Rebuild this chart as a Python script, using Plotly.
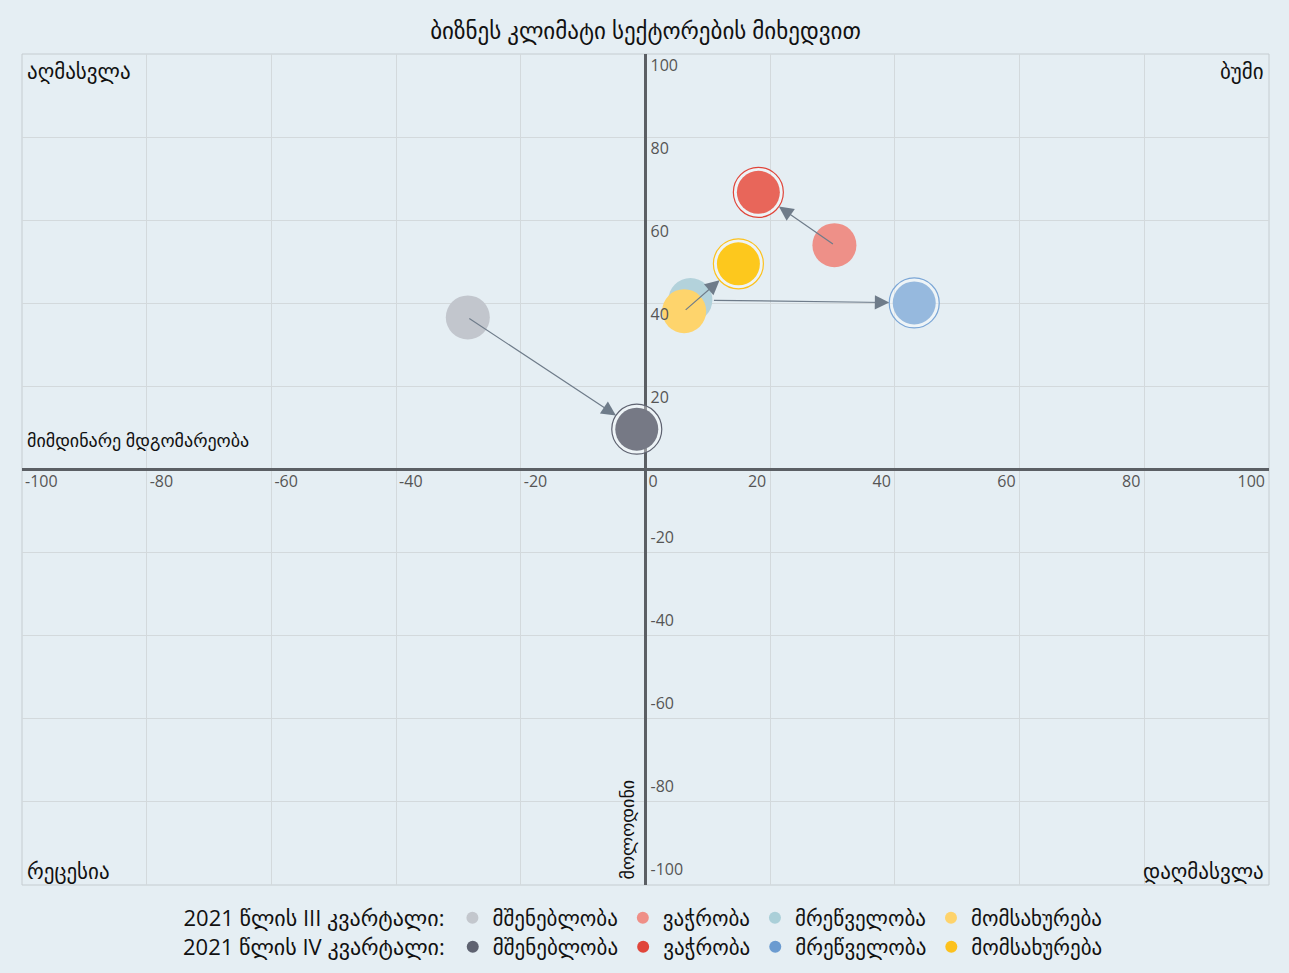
import plotly.graph_objects as go

# ---------------- data ----------------
sectors = ["მშენებლობა", "ვაჭრობა", "მრეწველობა", "მომსახურება"]
q3_x = [-28.5, 30.3, 7.2, 6.2]
q3_y = [36.6, 54.0, 40.8, 38.1]
q4_x = [-1.4, 18.1, 43.1, 14.9]
q4_y = [9.7, 66.7, 40.1, 49.5]

q3_name = "2021 წლის III კვარტალი:"
q4_name = "2021 წლის IV კვარტალი:"

tick_neg_x = [-100, -80, -60, -40, -20, 0]
tick_pos_x = [20, 40, 60, 80, 100]
tick_pos_y = [20, 40, 60, 80, 100]
tick_neg_y = [-100, -80, -60, -40, -20]

title_text = "ბიზნეს კლიმატი სექტორების მიხედვით"
corner_labels = ["აღმასვლა", "ბუმი", "რეცესია", "დაღმასვლა"]
x_title = "მიმდინარე მდგომარეობა"
y_title = "მოლოდინი"

# ---------------- styles ----------------
q3_bubble = ["#c2c6cd", "#ee9088", "#b3d2db", "#fed46c"]
q4_bubble = ["#767985", "#e8665a", "#96b9de", "#fdc81d"]
q4_ring = ["#5e6270", "#e0453a", "#7ba6d6", "#fcc11d"]
q3_legend = ["#c3c7cd", "#ef8f87", "#aacfd8", "#fed36b"]
q4_legend = ["#5e6270", "#e0453a", "#6b9bd0", "#fcc11d"]
bg = "#e5eef3"
grid = "#d3d9dc"
axis_col = "#5b5f64"
tick_col = "#555555"
arrow_col = "#6f7c8a"
FONT = "Open Sans, DejaVu Sans, sans-serif"

fig = go.Figure()

# Q3 bubbles
for i in range(len(sectors)):
    fig.add_trace(go.Scatter(
        x=[q3_x[i]], y=[q3_y[i]], mode="markers",
        marker=dict(size=44, color=q3_bubble[i], line=dict(width=0)),
        showlegend=False, hoverinfo="skip"))

# Q4 bubbles (ring + filled)
for i in range(len(sectors)):
    fig.add_trace(go.Scatter(
        x=[q4_x[i]], y=[q4_y[i]], mode="markers",
        marker=dict(size=50, color="rgba(255,255,255,0.35)",
                    line=dict(width=1.2, color=q4_ring[i])),
        showlegend=False, hoverinfo="skip"))
    fig.add_trace(go.Scatter(
        x=[q4_x[i]], y=[q4_y[i]], mode="markers",
        marker=dict(size=43, color=q4_bubble[i], line=dict(width=0)),
        showlegend=False, hoverinfo="skip"))

# legend-only entries
for i in range(len(sectors)):
    fig.add_trace(go.Scatter(
        x=[None], y=[None], mode="markers", name=sectors[i],
        marker=dict(size=12, color=q3_legend[i]), legend="legend"))
for i in range(len(sectors)):
    fig.add_trace(go.Scatter(
        x=[None], y=[None], mode="markers", name=sectors[i],
        marker=dict(size=12, color=q4_legend[i]), legend="legend2"))

# empty traces so that the tick-label axes get their subplots
for xa, ya in [("x2", "y2"), ("x3", "y3")]:
    fig.add_trace(go.Scatter(x=[None], y=[None], xaxis=xa, yaxis=ya,
                             mode="markers", showlegend=False, hoverinfo="skip"))

# arrows Q3 -> Q4
annotations = []
for i in range(len(sectors)):
    annotations.append(dict(
        x=q4_x[i], y=q4_y[i], ax=q3_x[i], ay=q3_y[i],
        xref="x", yref="y", axref="x", ayref="y",
        text="", showarrow=True, arrowhead=2, arrowsize=2.4,
        arrowwidth=1.2, arrowcolor=arrow_col, standoff=25,
        startstandoff=22 if i == 2 else 0))

lab_font = dict(family=FONT, size=21, color="#111111")
small_font = dict(family=FONT, size=18, color="#111111")
annotations += [
    dict(text=corner_labels[0], x=0, y=1, xref="paper", yref="paper",
         xanchor="left", yanchor="top", xshift=3, yshift=-1, showarrow=False, font=lab_font),
    dict(text=corner_labels[1], x=1, y=1, xref="paper", yref="paper",
         xanchor="right", yanchor="top", xshift=-3, yshift=-1, showarrow=False, font=lab_font),
    dict(text=corner_labels[2], x=0, y=0, xref="paper", yref="paper",
         xanchor="left", yanchor="bottom", xshift=3, yshift=-2, showarrow=False, font=lab_font),
    dict(text=corner_labels[3], x=1, y=0, xref="paper", yref="paper",
         xanchor="right", yanchor="bottom", xshift=-3, yshift=-2, showarrow=False, font=lab_font),
    dict(text=x_title, x=0, y=0.5, xref="paper", yref="paper",
         xanchor="left", yanchor="bottom", xshift=3, yshift=16, showarrow=False, font=small_font),
    dict(text=y_title, x=0.5, y=0, xref="paper", yref="paper",
         xanchor="right", yanchor="bottom", xshift=-5, yshift=3, textangle=-90,
         showarrow=False, font=small_font),
]

tick_font = dict(family=FONT, size=16, color=tick_col)

fig.update_layout(
    width=1289, height=973,
    paper_bgcolor=bg, plot_bgcolor=bg,
    margin=dict(l=22, r=20, t=54, b=88, autoexpand=False),
    font=dict(family=FONT),
    title=dict(text=title_text, x=0.5, xref="paper", xanchor="center",
               y=1 - 31 / 973, yref="container", yanchor="middle",
               font=dict(family=FONT, size=23, color="#111111")),
    xaxis=dict(range=[-100, 100], dtick=20, tick0=0, showgrid=True, gridcolor=grid,
               gridwidth=1, showticklabels=False, zeroline=True,
               zerolinecolor=axis_col, zerolinewidth=2.5, ticks="",
               showline=False, fixedrange=True),
    yaxis=dict(range=[-100, 100], dtick=20, tick0=0, showgrid=True, gridcolor=grid,
               gridwidth=1, showticklabels=False, zeroline=True,
               zerolinecolor=axis_col, zerolinewidth=2.5, ticks="",
               showline=False, fixedrange=True),
    xaxis2=dict(overlaying="x", range=[-100, 100], anchor="free", position=0.5,
                tickmode="array", tickvals=tick_neg_x, ticktext=[str(v) for v in tick_neg_x],
                ticklabelposition="outside right", ticklabelshift=3, showgrid=False,
                zeroline=False, ticks="", showline=False, tickfont=tick_font,
                ticklabelstandoff=0, fixedrange=True),
    xaxis3=dict(overlaying="x", range=[-100, 100], anchor="free", position=0.5,
                tickmode="array", tickvals=tick_pos_x, ticktext=[str(v) for v in tick_pos_x],
                ticklabelposition="outside left", ticklabelshift=-4, showgrid=False,
                zeroline=False, ticks="", showline=False, tickfont=tick_font,
                ticklabelstandoff=0, fixedrange=True),
    yaxis2=dict(overlaying="y", range=[-100, 100], anchor="free", position=0.5,
                side="right",
                tickmode="array", tickvals=tick_pos_y, ticktext=[str(v) for v in tick_pos_y],
                ticklabelposition="outside bottom", showgrid=False, zeroline=False,
                ticks="", showline=False, tickfont=tick_font, ticklabelstandoff=4,
                fixedrange=True),
    yaxis3=dict(overlaying="y", range=[-100, 100], anchor="free", position=0.5,
                side="right",
                tickmode="array", tickvals=tick_neg_y, ticktext=[str(v) for v in tick_neg_y],
                ticklabelposition="outside top", ticklabelshift=-4, showgrid=False,
                zeroline=False, ticks="", showline=False, tickfont=tick_font,
                ticklabelstandoff=4, fixedrange=True),
    shapes=[dict(type="rect", xref="paper", yref="paper", x0=0, y0=0, x1=1, y1=1,
                 line=dict(color="#c5ccd0", width=1), layer="below")],
    annotations=annotations,
    legend=dict(title=dict(text=q3_name, side="left", font=dict(family=FONT, size=22, color="#111")),
                orientation="h", x=0.5, xanchor="center", xref="container",
                y=1 - 918 / 973, yref="container", yanchor="middle",
                font=dict(family=FONT, size=21, color="#111"),
                itemsizing="constant", itemwidth=30, bgcolor="rgba(0,0,0,0)",
                tracegroupgap=0),
    legend2=dict(title=dict(text=q4_name, side="left", font=dict(family=FONT, size=22, color="#111")),
                 orientation="h", x=0.5, xanchor="center", xref="container",
                 y=1 - 947 / 973, yref="container", yanchor="middle",
                 font=dict(family=FONT, size=21, color="#111"),
                 itemsizing="constant", itemwidth=30, bgcolor="rgba(0,0,0,0)",
                 tracegroupgap=0),
    showlegend=True,
)

fig.write_html("out.html", config={"displayModeBar": False},
               post_script="document.body.style.margin='0';")
